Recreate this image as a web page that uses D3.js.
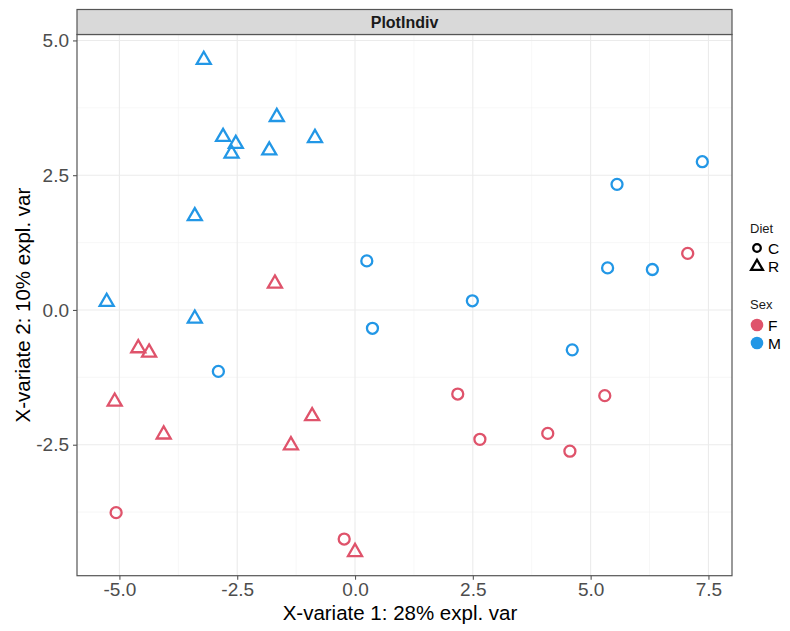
<!DOCTYPE html>
<html>
<head>
<meta charset="utf-8">
<script src="https://cdn.jsdelivr.net/npm/d3@7"></script>
<style>
  body { margin: 0; background: #fff; }
  text { font-family: "Liberation Sans", Arial, sans-serif; }
</style>
</head>
<body>
<div id="chart"></div>
<script>
// individuals plot, component 1 vs component 2
var comp1 = [-3.21, -1.66, -2.80, -2.53, -2.62, -1.82, -0.85, -3.40, -5.27, -3.40,
             -1.70, -4.60, -4.37, -5.10, -4.06, -1.36, -0.91, 0.00,
             -2.90, 0.25, 0.37, 2.49, 5.56, 7.37, 5.36, 6.31, 4.61,
             7.06, 2.18, 2.65, 4.09, 4.56, 5.30, -5.07, -0.23];
var comp2 = [4.64, 3.58, 3.21, 3.08, 2.90, 2.96, 3.19, 1.74, 0.15, -0.16,
             0.49, -0.71, -0.79, -1.70, -2.31, -2.51, -1.97, -4.49,
             -1.14, 0.91, -0.34, 0.17, 2.33, 2.75, 0.78, 0.75, -0.74,
             1.05, -1.56, -2.40, -2.29, -2.62, -1.59, -3.76, -4.25];
var sex = ['M', 'M', 'M', 'M', 'M', 'M', 'M', 'M', 'M', 'M',
           'F', 'F', 'F', 'F', 'F', 'F', 'F', 'F',
           'M', 'M', 'M', 'M', 'M', 'M', 'M', 'M', 'M',
           'F', 'F', 'F', 'F', 'F', 'F', 'F', 'F'];
var diet = ['R', 'R', 'R', 'R', 'R', 'R', 'R', 'R', 'R', 'R',
            'R', 'R', 'R', 'R', 'R', 'R', 'R', 'R',
            'C', 'C', 'C', 'C', 'C', 'C', 'C', 'C', 'C',
            'C', 'C', 'C', 'C', 'C', 'C', 'C', 'C'];

var x_ticks = [-5.0, -2.5, 0.0, 2.5, 5.0, 7.5];
var y_ticks = [-2.5, 0.0, 2.5, 5.0];
var x_minor = [-3.75, -1.25, 1.25, 3.75, 6.25];
var y_minor = [-3.75, -1.25, 1.25, 3.75];

var sex_levels = ['F', 'M'];
var diet_levels = ['C', 'R'];

var data = comp1.map(function(d, i) {
  return { x: d, y: comp2[i], sex: sex[i], diet: diet[i] };
});

var chart_width = 790;
var chart_height = 631;
var panel = { left: 77, right: 732, top: 34.5, bottom: 575.7 };

var svg = d3
  .select('#chart')
  .append('svg')
  .attr('width', chart_width)
  .attr('height', chart_height);

//scales
var x_scale = d3.scaleLinear().domain([-5.9, 8.0]).range([panel.left, panel.right]);
var y_scale = d3.scaleLinear().domain([-4.93, 5.11]).range([panel.bottom, panel.top]);
var colour = d3.scaleOrdinal().domain(sex_levels).range(['#DF536B', '#2297E6']);
var shape = d3.scaleOrdinal().domain(diet_levels).range([d3.symbolCircle, d3.symbolTriangle]);

// grid lines, minor first
var grid = svg.append('g');
grid.selectAll('.vmin').data(x_minor).enter().append('line')
  .attr('x1', function(d) { return x_scale(d); })
  .attr('x2', function(d) { return x_scale(d); })
  .attr('y1', panel.top).attr('y2', panel.bottom)
  .attr('stroke', '#F2F2F2').attr('stroke-width', 0.6);
grid.selectAll('.hmin').data(y_minor).enter().append('line')
  .attr('y1', function(d) { return y_scale(d); })
  .attr('y2', function(d) { return y_scale(d); })
  .attr('x1', panel.left).attr('x2', panel.right)
  .attr('stroke', '#F2F2F2').attr('stroke-width', 0.6);
grid.selectAll('.vmaj').data(x_ticks).enter().append('line')
  .attr('x1', function(d) { return x_scale(d); })
  .attr('x2', function(d) { return x_scale(d); })
  .attr('y1', panel.top).attr('y2', panel.bottom)
  .attr('stroke', '#EBEBEB').attr('stroke-width', 1.1);
grid.selectAll('.hmaj').data(y_ticks).enter().append('line')
  .attr('y1', function(d) { return y_scale(d); })
  .attr('y2', function(d) { return y_scale(d); })
  .attr('x1', panel.left).attr('x2', panel.right)
  .attr('stroke', '#EBEBEB').attr('stroke-width', 1.1);

// points
svg.selectAll('path.pt')
  .data(data)
  .enter()
  .append('path')
  .attr('class', 'pt')
  .attr('d', function(d) {
    return d3.symbol().type(shape(d.diet)).size(d.diet === 'C' ? 95 : 85)();
  })
  .attr('transform', function(d) {
    return 'translate(' + x_scale(d.x) + ',' + y_scale(d.y) + ')';
  })
  .attr('fill', 'none')
  .attr('stroke', function(d) { return colour(d.sex); })
  .attr('stroke-width', 2.3);

// panel border
svg.append('rect')
  .attr('x', panel.left).attr('y', panel.top)
  .attr('width', panel.right - panel.left)
  .attr('height', panel.bottom - panel.top)
  .attr('fill', 'none').attr('stroke', '#555').attr('stroke-width', 1.2);

// strip
svg.append('rect')
  .attr('x', panel.left).attr('y', 9.5)
  .attr('width', panel.right - panel.left)
  .attr('height', panel.top - 9.5)
  .attr('fill', '#D9D9D9').attr('stroke', '#555').attr('stroke-width', 1.2);
svg.append('text')
  .text('PlotIndiv')
  .attr('x', (panel.left + panel.right) / 2)
  .attr('y', 28.3)
  .attr('text-anchor', 'middle')
  .attr('font-size', 16)
  .attr('font-weight', 'bold')
  .attr('fill', '#1A1A1A');

// axes
var x_axis = d3.axisBottom(x_scale).tickValues(x_ticks).tickSize(4).tickPadding(3)
  .tickFormat(d3.format('.1f'));
var y_axis = d3.axisLeft(y_scale).tickValues(y_ticks).tickSize(4).tickPadding(4)
  .tickFormat(d3.format('.1f'));

var gx = svg.append('g').attr('transform', 'translate(0,' + panel.bottom + ')').call(x_axis);
var gy = svg.append('g').attr('transform', 'translate(' + panel.left + ',0)').call(y_axis);
[gx, gy].forEach(function(g) {
  g.select('.domain').remove();
  g.selectAll('line').attr('stroke', '#555').attr('stroke-width', 1.1);
  g.selectAll('text')
    .attr('font-size', 19)
    .attr('fill', '#4D4D4D')
    .style('font-family', '"Liberation Sans", Arial, sans-serif');
});
gx.selectAll('text').attr('dy', '0.71em');
// minus sign as hyphen like R does
gx.selectAll('text').text(function(d) { return d3.format('.1f')(d).replace('−', '-'); });
gy.selectAll('text').text(function(d) { return d3.format('.1f')(d).replace('−', '-'); });

// axis titles
svg.append('text')
  .text('X-variate 1: 28% expl. var')
  .attr('x', 400)
  .attr('y', 620)
  .attr('text-anchor', 'middle')
  .attr('font-size', 20.5)
  .attr('fill', '#000');
svg.append('text')
  .text('X-variate 2: 10% expl. var')
  .attr('transform', 'translate(30,' + ((panel.top + panel.bottom) / 2) + ') rotate(-90)')
  .attr('text-anchor', 'middle')
  .attr('font-size', 20.5)
  .attr('fill', '#000');

// legends
var legend = svg.append('g');
legend.append('text').text('Diet')
  .attr('x', 750).attr('y', 233)
  .attr('font-size', 13).attr('fill', '#1A1A1A');
legend.selectAll('.dkey').data(diet_levels).enter().append('path')
  .attr('d', function(d) {
    return d3.symbol().type(shape(d)).size(d === 'C' ? 45 : 60)();
  })
  .attr('transform', function(d, i) { return 'translate(757,' + (248 + i * 18.5) + ')'; })
  .attr('fill', 'none').attr('stroke', '#000').attr('stroke-width', 2.3);
legend.selectAll('.dlab').data(diet_levels).enter().append('text')
  .text(function(d) { return d; })
  .attr('x', 768).attr('y', function(d, i) { return 248 + i * 18.5 + 5.5; })
  .attr('font-size', 15.5).attr('fill', '#000');

legend.append('text').text('Sex')
  .attr('x', 750).attr('y', 309)
  .attr('font-size', 13).attr('fill', '#1A1A1A');
legend.selectAll('.skey').data(sex_levels).enter().append('circle')
  .attr('cx', 757).attr('cy', function(d, i) { return 325 + i * 18; })
  .attr('r', 6.3)
  .attr('fill', function(d) { return colour(d); });
legend.selectAll('.slab').data(sex_levels).enter().append('text')
  .text(function(d) { return d; })
  .attr('x', 768).attr('y', function(d, i) { return 325 + i * 18 + 5.5; })
  .attr('font-size', 15.5).attr('fill', '#000');
</script>
</body>
</html>
